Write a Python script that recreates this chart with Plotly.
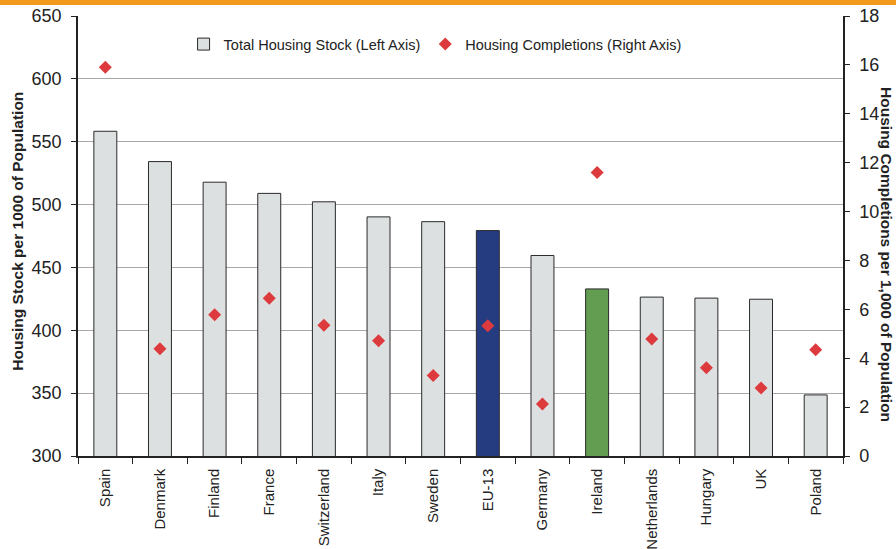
import plotly.graph_objects as go

countries = ["Spain", "Denmark", "Finland", "France", "Switzerland", "Italy", "Sweden",
             "EU-13", "Germany", "Ireland", "Netherlands", "Hungary", "UK", "Poland"]
housing_stock = [558.3, 534.2, 517.8, 508.9, 502.2, 490.2, 486.4,
                 479.3, 459.5, 432.9, 426.4, 425.6, 424.7, 348.6]
completions = [15.9, 4.39, 5.78, 6.45, 5.35, 4.71, 3.29,
               5.33, 2.13, 11.6, 4.79, 3.61, 2.78, 4.35]
left_ticks = [300, 350, 400, 450, 500, 550, 600, 650]
right_ticks = [0, 2, 4, 6, 8, 10, 12, 14, 16, 18]

bar_colors = []
for c in countries:
    if c == "EU-13":
        bar_colors.append("#263C80")
    elif c == "Ireland":
        bar_colors.append("#629D52")
    else:
        bar_colors.append("#DDE0E0")

FONT = "Liberation Sans, Arial, sans-serif"

fig = go.Figure()
fig.add_trace(go.Bar(
    x=countries, y=housing_stock, name="Total Housing Stock (Left Axis)",
    marker=dict(color=bar_colors, line=dict(color="#2a2a2a", width=1)),
    width=0.42, yaxis="y",
))
fig.add_trace(go.Scatter(
    x=countries, y=completions, name="Housing Completions (Right Axis)",
    mode="markers", marker=dict(symbol="diamond", size=10, color="#DD3A3D"),
    yaxis="y2",
))

fig.update_layout(
    width=896, height=549,
    margin=dict(l=78, r=53, t=16, b=93, autoexpand=False),
    paper_bgcolor="white", plot_bgcolor="white",
    font=dict(family=FONT, color="#222222"),
    showlegend=True,
    legend=dict(orientation="h", x=0.138, y=0.936, xanchor="left", yanchor="middle",
                font=dict(size=14.5, color="#222222"), bgcolor="rgba(0,0,0,0)",
                itemwidth=30, traceorder="normal"),
    xaxis=dict(
        type="category", range=[-0.5, len(countries) - 0.5],
        showline=True, linecolor="#222222", linewidth=1.5,
        ticks="outside", tickson="boundaries", ticklen=6, tickcolor="#222222",
        tickangle=-90, tickfont=dict(size=15, color="#222222"), ticklabelstandoff=5,
        showgrid=False, mirror=False, automargin=False,
    ),
    yaxis=dict(
        range=[300, 650], tickvals=left_ticks, showline=True, linecolor="#222222",
        linewidth=1.5, ticks="outside", ticklen=5, tickcolor="#222222",
        tickfont=dict(size=18, color="#222222"), ticklabelstandoff=6,
        showgrid=True, gridcolor="#A8A8A8", gridwidth=1.2, zeroline=False,
        automargin=False,
    ),
    yaxis2=dict(
        range=[0, 18], tickvals=right_ticks, overlaying="y", side="right",
        showline=True, linecolor="#222222", linewidth=1.5, ticks="outside",
        ticklen=5, tickcolor="#222222", tickfont=dict(size=18, color="#222222"),
        ticklabelstandoff=6, showgrid=False, zeroline=False, automargin=False,
    ),
    shapes=[
        dict(type="rect", xref="paper", yref="paper", x0=-0.2, x1=1.2,
             y0=1 + 11 / 440, y1=1 + 17 / 440, fillcolor="#F39A1E", line=dict(width=0),
             layer="above"),
    ],
    annotations=[
        dict(text="<b>Housing Stock per 1000 of Population</b>", xref="paper", yref="paper",
             x=-0.079, y=0.511, xanchor="center", yanchor="middle", textangle=-90,
             showarrow=False, font=dict(size=15.5, color="#222222", family=FONT)),
        dict(text="<b>Housing Completions per 1,000 of Population</b>", xref="paper",
             yref="paper", x=1.056, y=0.457, xanchor="center", yanchor="middle",
             textangle=90, showarrow=False, font=dict(size=15.5, color="#222222", family=FONT)),
    ],
)

fig.write_html("out.html", config={"displayModeBar": False},
               post_script="document.body.style.margin='0';")
